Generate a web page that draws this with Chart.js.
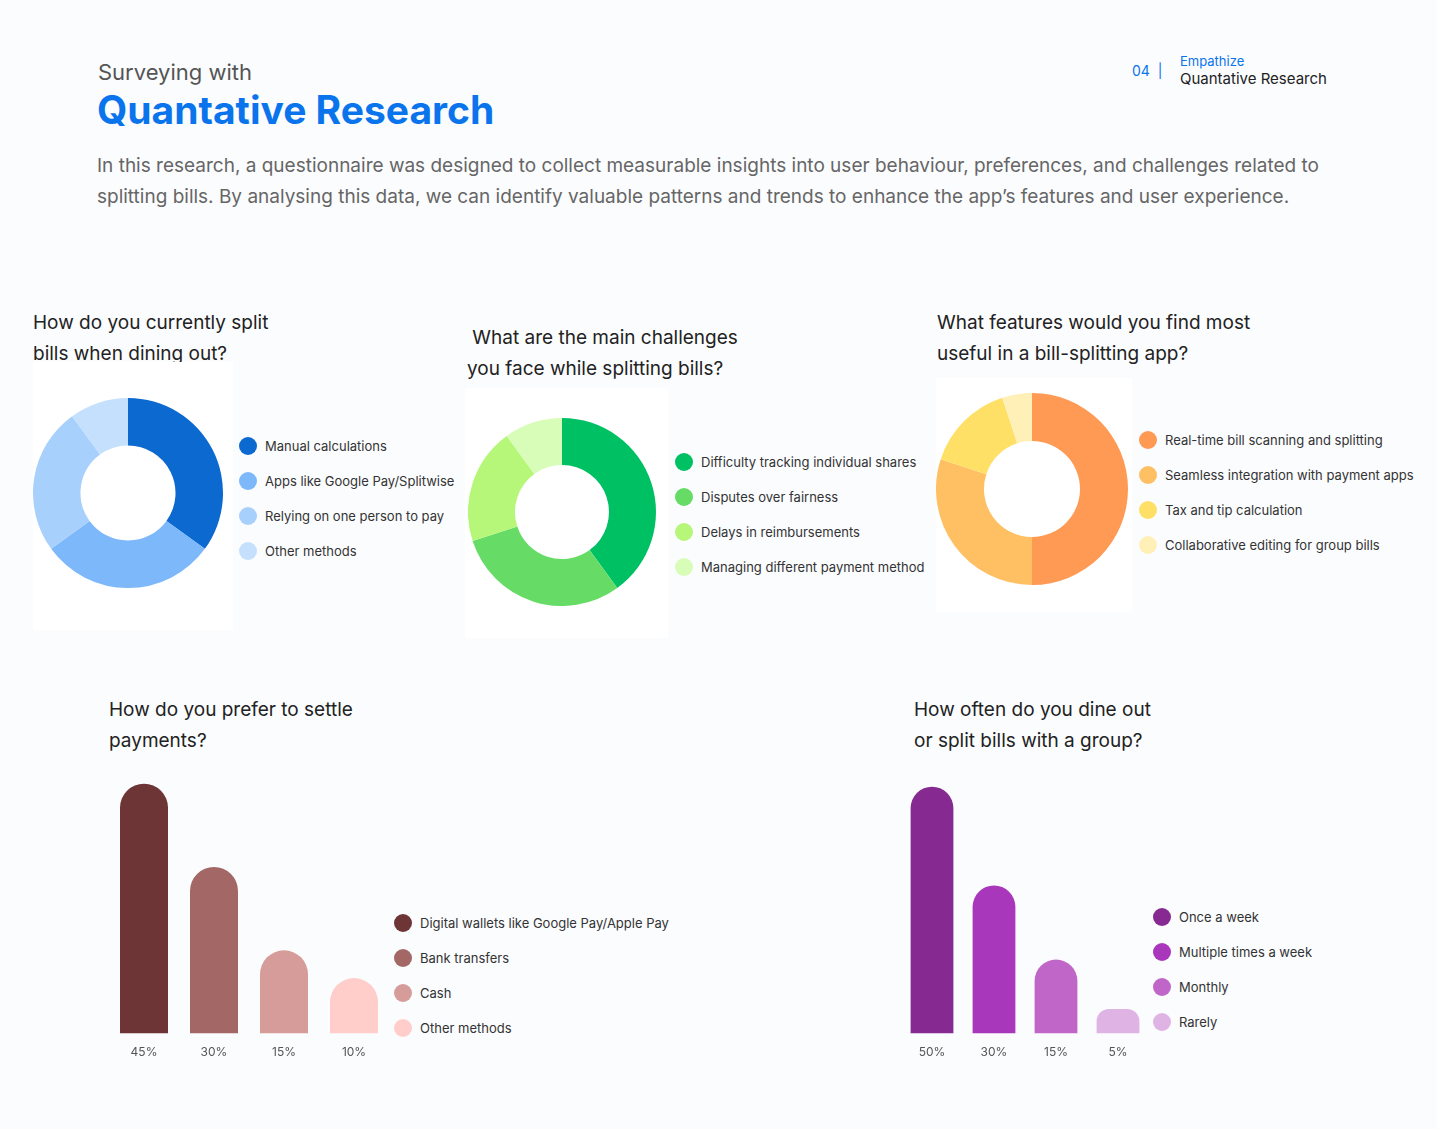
<!DOCTYPE html>
<html>
<head>
<meta charset="utf-8">
<script src="https://cdn.jsdelivr.net/npm/chart.js@4"></script>
<style>
  body { margin: 0; background: #fbfcfe; font-family: Inter, "Noto Sans", sans-serif; }
  #page { position: relative; width: 1437px; height: 1129px; }
  .abs { position: absolute; }
  .q { font-size: 19px; color: #222; line-height: 31px; }
  .panel { position: absolute; background: #fff; }
  .legend { position: absolute; font-size: 13px; color: #333; }
  .legend div { position: relative; height: 35px; padding-left: 17px; line-height: 18px; }
  .legend span { position: absolute; left: -9px; top: 0; width: 18px; height: 18px; border-radius: 50%; }
</style>
</head>
<body>
<div id="page">
  <div class="abs" style="left:98px;top:59px;font-size:22px;color:#555">Surveying with</div>
  <div class="abs" style="left:97px;top:86px;font-size:39px;font-weight:700;color:#0a74ec">Quantative Research</div>
  <div class="abs" style="left:97px;top:150px;width:1250px;font-size:19px;line-height:31px;color:#666">In this research, a questionnaire was designed to collect measurable insights into user behaviour, preferences, and challenges related to splitting bills. By analysing this data, we can identify valuable patterns and trends to enhance the app’s features and user experience.</div>
  <div class="abs" style="left:1132px;top:62px;font-size:14px;color:#0a74ec">04 &nbsp;|</div>
  <div class="abs" style="left:1180px;top:53px;font-size:13px;color:#0a74ec">Empathize</div>
  <div class="abs" style="left:1180px;top:69px;font-size:15px;color:#222">Quantative Research</div>

  <div class="abs q" style="left:33px;top:307px">How do you currently split<br>bills when dining out?</div>
  <div class="abs q" style="left:467px;top:322px">&nbsp;What are the main challenges<br>you face while splitting bills?</div>
  <div class="abs q" style="left:937px;top:307px">What features would you find most<br>useful in a bill-splitting app?</div>
  <div class="abs q" style="left:109px;top:694px">How do you prefer to settle<br>payments?</div>
  <div class="abs q" style="left:914px;top:694px">How often do you dine out<br>or split bills with a group?</div>

  <div class="panel" style="left:33px;top:362px;width:200px;height:268px"></div>
  <div class="panel" style="left:465px;top:388px;width:203px;height:250px"></div>
  <div class="panel" style="left:936px;top:378px;width:196px;height:234px"></div>

  <canvas id="d1" class="abs" style="left:33px;top:398px"></canvas>
  <canvas id="d2" class="abs" style="left:468px;top:418px"></canvas>
  <canvas id="d3" class="abs" style="left:936px;top:393px"></canvas>
  <canvas id="b1" class="abs" style="left:109px;top:756px"></canvas>
  <canvas id="b2" class="abs" style="left:901px;top:762px"></canvas>

  <div id="l1" class="legend" style="left:248px;top:437px"></div>
  <div id="l2" class="legend" style="left:684px;top:453px"></div>
  <div id="l3" class="legend" style="left:1148px;top:431px"></div>
  <div id="l4" class="legend" style="left:403px;top:914px"></div>
  <div id="l5" class="legend" style="left:1162px;top:908px"></div>
</div>
<script>
// survey results, percent of respondents
var surveys = {
    d1: {
        labels: ['Manual calculations', 'Apps like Google Pay/Splitwise', 'Relying on one person to pay', 'Other methods'],
        values: [35, 30, 25, 10],
        colors: ['#0b69cf', '#7db8fb', '#a8d0fc', '#c4e0fd'],
        size: 190, legend: 'l1'
    },
    d2: {
        labels: ['Difficulty tracking individual shares', 'Disputes over fairness', 'Delays in reimbursements', 'Managing different payment method'],
        values: [40, 30, 20, 10],
        colors: ['#00c064', '#66dc66', '#b6f77a', '#d8fdb8'],
        size: 188, legend: 'l2'
    },
    d3: {
        labels: ['Real-time bill scanning and splitting', 'Seamless integration with payment apps', 'Tax and tip calculation', 'Collaborative editing for group bills'],
        values: [50, 30, 15, 5],
        colors: ['#ff9a55', '#ffc064', '#ffe066', '#fff0b8'],
        size: 192, legend: 'l3'
    },
    b1: {
        labels: ['Digital wallets like Google Pay/Apple Pay', 'Bank transfers', 'Cash', 'Other methods'],
        values: [45, 30, 15, 10],
        colors: ['#6d3535', '#a36866', '#d69c9a', '#ffcecb'],
        width: 280, height: 308, max: 50, barPct: 0.686, legend: 'l4'
    },
    b2: {
        labels: ['Once a week', 'Multiple times a week', 'Monthly', 'Rarely'],
        values: [50, 30, 15, 5],
        colors: ['#862a92', '#a937bb', '#c066c9', '#dfb4e5'],
        width: 248, height: 302, max: 55, barPct: 0.69, legend: 'l5'
    }
};

Chart.defaults.font.family = 'Inter, "Noto Sans", sans-serif';

function buildLegend(id, s) {
    var el = document.getElementById(id);
    s.labels.forEach(function(label, i) {
        var row = document.createElement('div');
        row.innerHTML = '<span style="background:' + s.colors[i] + '"></span>' + label;
        el.appendChild(row);
    });
}

function makeDonut(id) {
    var s = surveys[id];
    var canvas = document.getElementById(id);
    canvas.width = s.size; canvas.height = s.size;
    canvas.style.width = s.size + 'px'; canvas.style.height = s.size + 'px';
    new Chart(canvas, {
        type: 'doughnut',
        data: { labels: s.labels, datasets: [{ data: s.values, backgroundColor: s.colors, borderWidth: 0 }] },
        options: {
            responsive: false, animation: false, cutout: '50%',
            plugins: { legend: { display: false }, tooltip: { enabled: false } }
        }
    });
    buildLegend(s.legend, s);
}

function makeBars(id) {
    var s = surveys[id];
    var canvas = document.getElementById(id);
    canvas.width = s.width; canvas.height = s.height;
    canvas.style.width = s.width + 'px'; canvas.style.height = s.height + 'px';
    new Chart(canvas, {
        type: 'bar',
        data: {
            labels: s.values.map(function(v) { return v + '%'; }),
            datasets: [{
                data: s.values, backgroundColor: s.colors,
                borderRadius: { topLeft: 30, topRight: 30 }, borderSkipped: 'bottom',
                barPercentage: s.barPct, categoryPercentage: 1
            }]
        },
        options: {
            responsive: false, animation: false,
            layout: { padding: 0 },
            scales: {
                x: { grid: { display: false }, border: { display: false },
                     ticks: { color: '#555', font: { size: 12 }, padding: 4 } },
                y: { display: false, min: 0, max: s.max }
            },
            plugins: { legend: { display: false }, tooltip: { enabled: false } }
        }
    });
    buildLegend(s.legend, s);
}

makeDonut('d1');
makeDonut('d2');
makeDonut('d3');
makeBars('b1');
makeBars('b2');
</script>
</body>
</html>
